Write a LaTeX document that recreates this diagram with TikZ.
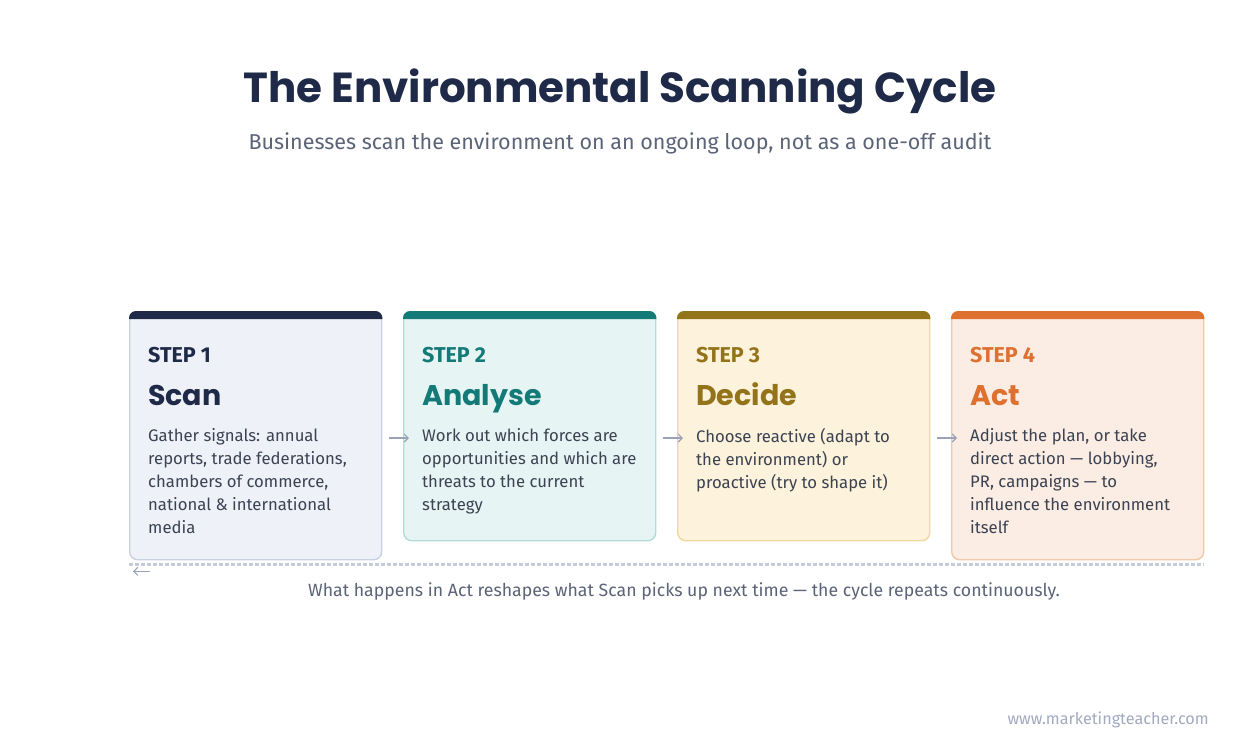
\documentclass[tikz,border=0pt]{standalone}
\usepackage{fontspec}
\setmainfont{Fira Sans}
\newfontfamily\headfont{Poppins}
\usetikzlibrary{arrows.meta}
\definecolor{tinta}{HTML}{1F2A48}
\definecolor{gris}{HTML}{5B6477}
\definecolor{cuerpo}{HTML}{3B4252}
\definecolor{flecha}{HTML}{9AA3B8}
\definecolor{trazo}{HTML}{C5CCDA}
\definecolor{pie}{HTML}{A3AAC0}
\definecolor{azulPaso}{HTML}{1F2A48}
\definecolor{azulFondo}{HTML}{EEF1F8}
\definecolor{azulBorde}{HTML}{C9D0E0}
\definecolor{verdePaso}{HTML}{147A78}
\definecolor{verdeFondo}{HTML}{E6F5F4}
\definecolor{verdeBorde}{HTML}{B3DCD8}
\definecolor{oroPaso}{HTML}{94741A}
\definecolor{oroFondo}{HTML}{FDF2DC}
\definecolor{oroBorde}{HTML}{F1D89F}
\definecolor{naranjaPaso}{HTML}{DE7030}
\definecolor{naranjaFondo}{HTML}{FBEDE3}
\definecolor{naranjaBorde}{HTML}{F2C9A6}

\tikzset{
  card/.style={draw, line width=1.4, rounded corners=8, minimum width=252,
    anchor=north west, inner sep=0},
  steplabel/.style={anchor=base west, inner sep=0,
    font=\fontsize{21.5}{24}\selectfont\bfseries},
  steptitle/.style={anchor=base west, inner sep=0,
    font=\headfont\fontsize{28.5}{32}\selectfont\bfseries},
  steptext/.style={anchor=north west, inner sep=0, align=left, text=cuerpo,
    font=\fontsize{16.7}{23}\selectfont},
  flow/.style={draw=flecha, line width=1.1, -{Straight Barb[length=4,width=8]}},
}

\begin{document}
\begin{tikzpicture}[x=1pt,y=1pt]
  \useasboundingbox (0,0) rectangle (1240,-745);
  \fill[white] (0,0) rectangle (1240,-745);

  % heading
  \node[font=\headfont\fontsize{42}{46}\selectfont\bfseries, text=tinta]
    (titulo) at (620,-91) {The Environmental Scanning Cycle};
  \node[font=\fontsize{21.5}{26}\selectfont, text=gris]
    (subtitulo) at (620,-143)
    {Businesses scan the environment on an ongoing loop, not as a one-off audit};

  % the four cards
  \node[card, fill=azulFondo, draw=azulBorde, minimum height=248]
    (scan) at (129,-311) {};
  \node[card, fill=verdeFondo, draw=verdeBorde, minimum height=229]
    (analyse) at (403,-311) {};
  \node[card, fill=oroFondo, draw=oroBorde, minimum height=229]
    (decide) at (677,-311) {};
  \node[card, fill=naranjaFondo, draw=naranjaBorde, minimum height=248]
    (act) at (951,-311) {};

  % coloured top bars
  \foreach \c/\k in {scan/azulPaso,analyse/verdePaso,decide/oroPaso,act/naranjaPaso}{
    \fill[\k] ([yshift=-8]\c.north west) [rounded corners=7] -- (\c.north west)
      -- (\c.north east) [sharp corners] -- ([yshift=-8]\c.north east) -- cycle;
  }

  % step 1
  \node[steplabel, text=azulPaso] (s1) at (148,-362) {STEP 1};
  \node[steptitle, text=azulPaso] (t1) at (148,-405) {Scan};
  \node[steptext] (b1) at (148,-428)
    {Gather signals: annual\\reports, trade federations,\\chambers of commerce,\\national \& international\\media};
  % step 2
  \node[steplabel, text=verdePaso] (s2) at (422,-362) {STEP 2};
  \node[steptitle, text=verdePaso] (t2) at (422,-405) {Analyse};
  \node[steptext] (b2) at (422,-428)
    {Work out which forces are\\opportunities and which are\\threats to the current\\strategy};
  % step 3
  \node[steplabel, text=oroPaso] (s3) at (696,-362) {STEP 3};
  \node[steptitle, text=oroPaso] (t3) at (696,-405) {Decide};
  \node[steptext] (b3) at (696,-428)
    {Choose reactive (adapt to\\the environment) or\\proactive (try to shape it)};
  % step 4
  \node[steplabel, text=naranjaPaso] (s4) at (970,-362) {STEP 4};
  \node[steptitle, text=naranjaPaso] (t4) at (970,-405) {Act};
  \node[steptext] (b4) at (970,-428)
    {Adjust the plan, or take\\direct action — lobbying,\\PR, campaigns — to\\influence the environment\\itself};

  % arrows between cards
  \draw[flow] ([shift={(7,-127)}]scan.north east) -- ([shift={(6,-127)}]analyse.north west);
  \draw[flow] ([shift={(7,-127)}]analyse.north east) -- ([shift={(6,-127)}]decide.north west);
  \draw[flow] ([shift={(7,-127)}]decide.north east) -- ([shift={(6,-127)}]act.north west);

  % loop back
  \draw[trazo, line width=2.5, dash pattern=on 4 off 2]
    ([yshift=-4]scan.south west) -- ([yshift=-4]act.south east);
  \coordinate (vuelta) at ([shift={(4,-11)}]scan.south west);
  \draw[flow] ([shift={(21,-11)}]scan.south west) -- (vuelta);
  \node[font=\fontsize{17.7}{21}\selectfont, text=gris] (nota) at (684,-591)
    {What happens in Act reshapes what Scan picks up next time — the cycle repeats continuously.};

  \node[anchor=base east, inner sep=0, font=\fontsize{16.2}{19}\selectfont, text=pie]
    (web) at (1209,-724) {www.marketingteacher.com};
\end{tikzpicture}
\end{document}
